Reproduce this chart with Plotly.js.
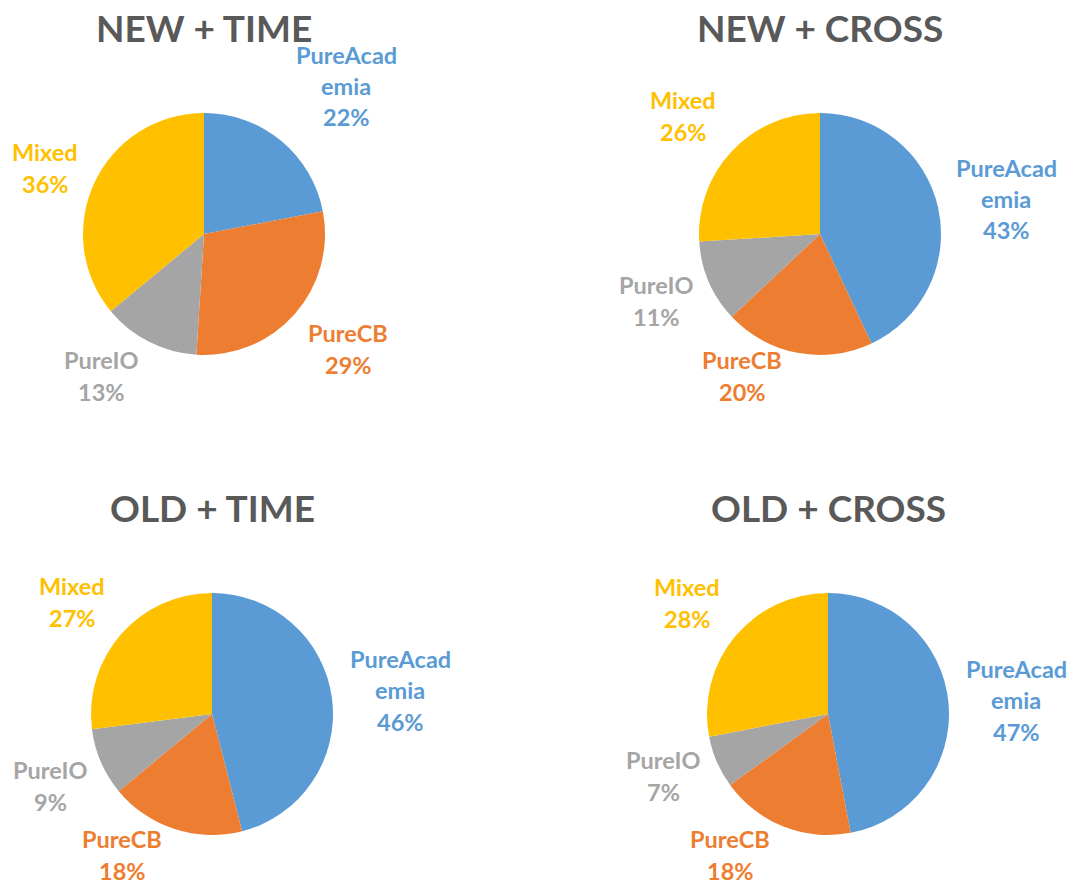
<!DOCTYPE html>
<html>
<head>
<meta charset="utf-8">
<script src="https://cdn.plot.ly/plotly-3.0.1.min.js"></script>
<style>html,body{margin:0;padding:0;background:#fff;}#chart{width:1073px;height:884px;}</style>
</head>
<body>
<div id="chart"></div>
<script>
// ---- data ----
const categories = ["PureAcademia", "PureCB", "PureIO", "Mixed"];
const categoryLabelLines = [["PureAcad", "emia"], ["PureCB"], ["PureIO"], ["Mixed"]];
const chartTitles = ["NEW + TIME", "NEW + CROSS", "OLD + TIME", "OLD + CROSS"];
const newTimeValues = [22, 29, 13, 36];
const newCrossValues = [43, 20, 11, 26];
const oldTimeValues = [46, 18, 9, 27];
const oldCrossValues = [47, 18, 7, 28];
const sliceColors = ["#5B9BD5", "#ED7D31", "#A5A5A5", "#FFC000"];

// ---- layout (pixels) ----
const W = 1073, H = 884;
const FONT = "Lato, Carlito, Calibri, 'Open Sans', sans-serif";
const panels = [
  {values: newTimeValues, cx: 204, cy: 234, r: 121, titleX: 204, titleY: 27,
   labelPos: [[346, 86], [348, 349], [101, 376], [45, 168]]},
  {values: newCrossValues, cx: 820, cy: 234, r: 121, titleX: 820, titleY: 27,
   labelPos: [[1006, 199], [742, 376], [656, 301], [683, 116]]},
  {values: oldTimeValues, cx: 212, cy: 714, r: 121, titleX: 212, titleY: 508,
   labelPos: [[400, 690], [122, 855], [50, 786], [72, 602]]},
  {values: oldCrossValues, cx: 828, cy: 714, r: 121, titleX: 828, titleY: 508,
   labelPos: [[1016, 700], [730, 855], [663, 776], [687, 603]]}
];
const LINE = 31.5;

const traces = [];
const annotations = [];
panels.forEach((p, i) => {
  traces.push({
    type: "pie",
    labels: categories,
    values: p.values,
    sort: false,
    direction: "clockwise",
    rotation: 0,
    textinfo: "none",
    hoverinfo: "label+percent",
    showlegend: false,
    marker: {colors: sliceColors, line: {width: 0}},
    domain: {
      x: [(p.cx - p.r) / W, (p.cx + p.r) / W],
      y: [1 - (p.cy + p.r) / H, 1 - (p.cy - p.r) / H]
    }
  });
  annotations.push({
    text: "<b>" + chartTitles[i] + "</b>",
    xref: "paper", yref: "paper",
    x: p.titleX / W, y: 1 - p.titleY / H,
    xanchor: "center", yanchor: "middle",
    showarrow: false,
    font: {family: FONT, size: 37, color: "#595959"}
  });
  const total = p.values.reduce((a, b) => a + b, 0);
  categories.forEach((c, k) => {
    const lines = categoryLabelLines[k].concat([Math.round(p.values[k] / total * 100) + "%"]);
    const [lx, ly] = p.labelPos[k];
    const top = ly - (lines.length - 1) * LINE / 2;
    lines.forEach((t, j) => {
      annotations.push({
        text: "<b>" + t + "</b>",
        xref: "paper", yref: "paper",
        x: lx / W, y: 1 - (top + j * LINE) / H,
        xanchor: "center", yanchor: "middle",
        showarrow: false,
        font: {family: FONT, size: 23.5, color: sliceColors[k]}
      });
    });
  });
});

Plotly.newPlot("chart", traces, {
  width: W, height: H,
  margin: {l: 0, r: 0, t: 0, b: 0},
  paper_bgcolor: "#ffffff",
  plot_bgcolor: "#ffffff",
  annotations: annotations
}, {displayModeBar: false, staticPlot: true});
</script>
</body>
</html>
